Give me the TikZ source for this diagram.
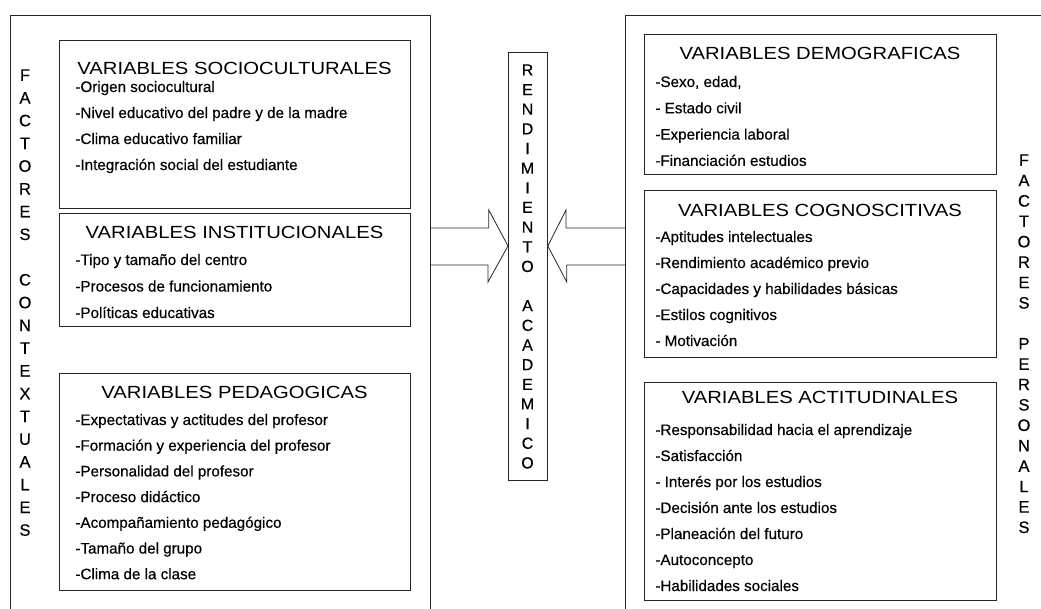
\documentclass[tikz,border=0pt]{standalone}
\usepackage{fontspec}
\setmainfont{Liberation Sans}
\newfontfamily\headfont[FakeStretch=1.15]{Liberation Sans}
\newfontfamily\itemfont[FakeBold=0.4]{Liberation Sans}
\begin{document}
\begin{tikzpicture}[x=1pt,y=-1pt,line width=0.8pt,
  caja/.style={draw=black!85, anchor=north west, inner sep=0pt},
  titulo/.style={anchor=base, inner sep=0pt, font=\headfont\fontsize{17.6}{20}\selectfont},
  item/.style={anchor=base west, inner sep=0pt, font=\itemfont\fontsize{15.2}{18}\selectfont},
  letras/.style={anchor=north, inner sep=0pt, align=center}]
\useasboundingbox (0,0) rectangle (1041,608);
% marcos exteriores (cortados por el borde)
\node[caja, minimum width=420pt, minimum height=700pt] (contextuales) at (10,15) {};
\node[caja, minimum width=500pt, minimum height=700pt] (personales) at (625,15) {};
% rendimiento
\node[caja, minimum width=39pt, minimum height=428pt] (rend) at (508,52) {};
\node[letras, font=\itemfont\fontsize{16}{19.65}\selectfont] (rendtxt) at (527.5,64)
  {R\\E\\N\\D\\I\\M\\I\\E\\N\\T\\O\\[19.65pt]A\\C\\A\\D\\E\\M\\I\\C\\O};
\node[letras, font=\itemfont\fontsize{16.5}{22.75}\selectfont] (ctxtxt) at (25,69)
  {F\\A\\C\\T\\O\\R\\E\\S\\[22.75pt]C\\O\\N\\T\\E\\X\\T\\U\\A\\L\\E\\S};
\node[letras, font=\itemfont\fontsize{16.5}{20.4}\selectfont] (pertxt) at (1024,154)
  {F\\A\\C\\T\\O\\R\\E\\S\\[20.4pt]P\\E\\R\\S\\O\\N\\A\\L\\E\\S};
% flechas
\draw[draw=black!85] (contextuales.east |- 0,228) -- ++(58,0) -- ++(0,-18)
  -- (rend.west |- 0,246) -- ++(-20,36) -- ++(0,-17) -- (contextuales.east |- 0,265);
\draw[draw=black!85] (personales.west |- 0,228) -- ++(-59,0) -- ++(0,-18)
  -- (rend.east |- 0,246) -- ++(19,36) -- ++(0,-17) -- (personales.west |- 0,265);
% variables de contexto
\node[caja, minimum width=351pt, minimum height=168pt] (socio) at (59,40) {};
\node[titulo] (sociotit) at (234.5,74) {VARIABLES SOCIOCULTURALES};
\foreach \t [count=\i] in {-Origen sociocultural,-Nivel educativo del padre y de la madre,
  -Clima educativo familiar,-Integración social del estudiante}
  \node[item] (socio-\i) at (75,{92+26*(\i-1)}) {\t};
\node[caja, minimum width=351pt, minimum height=113pt] (instit) at (59,213) {};
\node[titulo] (instittit) at (234.5,238) {VARIABLES INSTITUCIONALES};
\foreach \t [count=\i] in {-Tipo y tamaño del centro,-Procesos de funcionamiento,
  -Políticas educativas}
  \node[item] (instit-\i) at (75,{265+26.5*(\i-1)}) {\t};
\node[caja, minimum width=351pt, minimum height=217pt] (pedag) at (59,373) {};
\node[titulo] (pedagtit) at (234.5,398) {VARIABLES PEDAGOGICAS};
\foreach \t [count=\i] in {-Expectativas y actitudes del profesor,
  -Formación y experiencia del profesor,-Personalidad del profesor,-Proceso didáctico,
  -Acompañamiento pedagógico,-Tamaño del grupo,-Clima de la clase}
  \node[item] (pedag-\i) at (75,{425+25.7*(\i-1)}) {\t};
% variables personales
\node[caja, minimum width=352pt, minimum height=140pt] (demog) at (644,34) {};
\node[titulo] (demogtit) at (820,59) {VARIABLES DEMOGRAFICAS};
\foreach \t [count=\i] in {{-Sexo, edad,},- Estado civil,-Experiencia laboral,
  -Financiación estudios}
  \node[item] (demog-\i) at (655,{87+26.3*(\i-1)}) {\t};
\node[caja, minimum width=352pt, minimum height=167pt] (cogn) at (644,190) {};
\node[titulo] (cogntit) at (820,216) {VARIABLES COGNOSCITIVAS};
\foreach \t [count=\i] in {-Aptitudes intelectuales,-Rendimiento académico previo,
  -Capacidades y habilidades básicas,-Estilos cognitivos,- Motivación}
  \node[item] (cogn-\i) at (655,{242+26*(\i-1)}) {\t};
\node[caja, minimum width=352pt, minimum height=218pt] (actit) at (644,382) {};
\node[titulo] (actittit) at (820,403) {VARIABLES ACTITUDINALES};
\foreach \t [count=\i] in {-Responsabilidad hacia el aprendizaje,-Satisfacción,
  - Interés por los estudios,-Decisión ante los estudios,-Planeación del futuro,
  -Autoconcepto,-Habilidades sociales}
  \node[item] (actit-\i) at (655,{435+26*(\i-1)}) {\t};
\end{tikzpicture}
\end{document}
